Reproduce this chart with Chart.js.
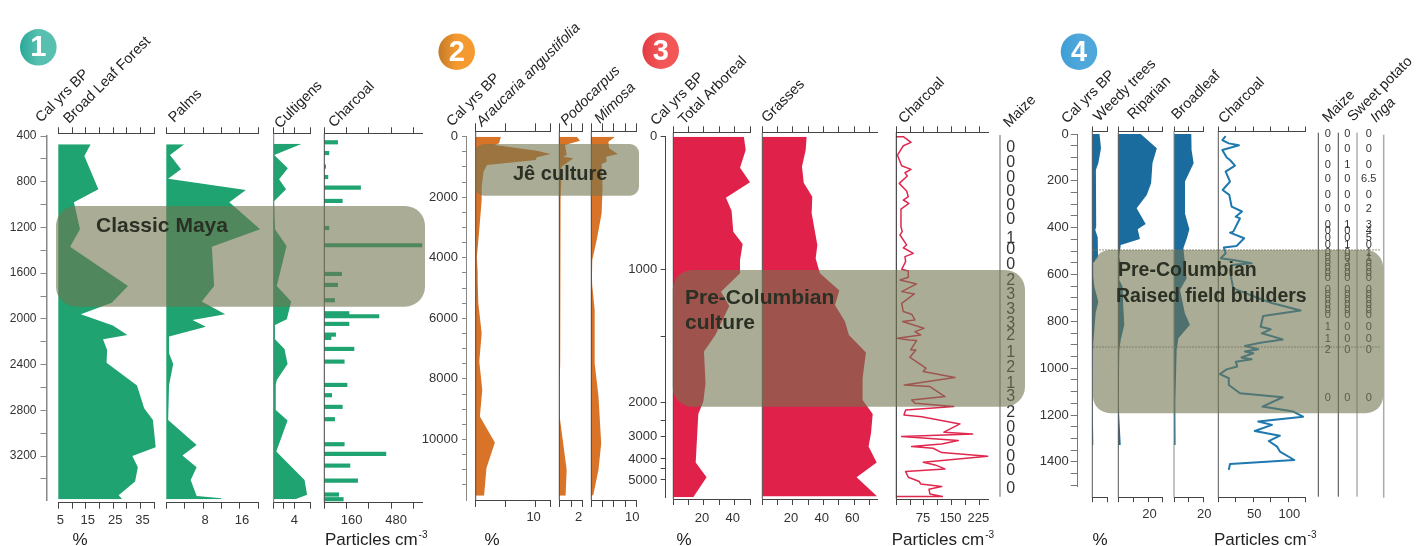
<!DOCTYPE html>
<html>
<head>
<meta charset="utf-8">
<title>Pollen and charcoal records</title>
<style>html,body{margin:0;background:#fff}canvas{display:block}</style>
<script src="https://cdn.jsdelivr.net/npm/chart.js@4"></script>
</head>
<body>
<canvas id="chart" width="1417" height="546"></canvas>
<script>
// --- values ------------------------------------------------------------

// site 1 (age in cal yrs BP)
var broadLeafAge = [473,575,866,980,1216,1368,1712,1858,1960,2059,2141,2178,2272,2383,2584,2782,2884,3123,3199,3298,3424,3543,3578];
var broadLeafPct = [16.8,14.5,19.6,10.7,12.9,9.3,30.4,24.5,13.2,24.9,30.2,21.3,22.8,22.6,33.7,36.3,39.5,40.5,32,34,33,27,28.3];
var palmsAge = [473,566,691,773,872,980,1216,1368,1712,1849,1960,2009,2068,2155,2301,2394,2578,2884,3103,3196,3298,3409,3549,3569,3578];
var palmsPct = [3.9,0.8,3.2,0.4,17.3,13.7,20.4,9.9,10.4,7.7,12.8,5.7,8.6,0.6,0.6,1.5,0.6,0.4,6.6,3.5,6.6,5.3,6.6,12,12];
var cultigensAge = [467,566,683,779,866,971,1216,1362,1712,1849,2004,2053,2178,2263,2394,2534,2578,2797,2890,3161,3409,3540,3578];
var cultigensPct = [5.5,0.1,2.75,1.05,2.4,0.07,0.26,2.5,0.6,3.4,2.55,0.26,0.26,2.1,2.7,0.6,0.4,0.4,2.7,0.5,6,6.5,4.2];
var charcoal1Age = [455,549,668,759,852,968,1205,1356,1607,1703,1837,1951,1977,2044,2138,2167,2263,2374,2578,2668,2770,2878,3097,3182,3284,3415,3537,3578];
var charcoal1Val = [96,33,10,26,260,129,33,700,124,96,74,177,392,177,81,48,213,143,163,53,129,74,143,442,184,239,103,136];

// site 2
var araucariaAge = [0,220,275,462,572,682,770,935,1155,1650,2090,3190,3960,4510,4732,5502,6492,7427,8362,9242,10100,10947,11860];
var araucariaPct = [4.2,3.9,3.2,10.2,12.5,10.2,10,1.9,1.3,1,1,0.55,0.2,0.33,0.33,0.44,1,0.6,1.1,0.7,3.2,1.8,1.4];
var podocarpusAge = [0,132,275,605,660,715,990,2090,4290,5502,7482,8142,9242,11002,11860];
var podocarpusPct = [1.5,1.77,0.49,0.63,0.34,1.2,0.2,0.11,0.06,0.06,0.11,0.03,0.03,0.63,0.54];
var mimosaAge = [0,165,385,572,660,825,900,1650,2530,3410,4070,4620,4897,5722,7482,8582,10122,11002,11827,11860];
var mimosaPct = [5.3,3.8,3.95,5.9,3.3,3.4,2.3,2.5,2.3,1.2,0.22,0.15,0.2,0.75,0.75,1.6,2.2,1.6,0.45,0.15];

// site 3: depth is the position on the broken age axis, see y3Ticks / y3TickText
var arborealDepth = [0,100,233,343,459,556,714,807,927,1027,1165,1273,1491,1616,1854,1992,2085,2450,2561,2711];
var arborealPct = [46,47.2,43.5,50,34.3,38,39.1,45.2,43.5,43.5,31.1,36.5,27.4,20,21,19.6,16.3,14.6,21.7,13];
var grassesDepth = [0,100,225,346,451,576,814,915,1027,1157,1265,1390,1491,1623,1816,1979,2085,2230,2330,2450,2561,2706];
var grassesPct = [28.9,28.3,25.9,27,32.6,32.2,35.9,34.8,37.6,50.2,47.4,53.9,56.5,67.6,65.4,65.4,72,70.9,69.3,74.6,61.5,75];
var charcoal3Depth = [0,0,43,68,138,218,246,271,296,351,408,451,476,501,544,677,714,739,814,835,877,902,940,997,1010,1057,1077,1107,1165,1182,1253,1315,1335,1378,1390,1441,1466,1491,1516,1528,1533,1603,1604,1659,1741,1766,1811,1867,1879,1954,1979,2004,2029,2055,2092,2105,2160,2222,2235,2255,2285,2310,2330,2343,2375,2403,2448,2468,2498,2518,2561,2593,2611,2631,2651,2686,2706,2706];
var charcoal3Val = [0,19,40,19,3,14.5,40,23.5,30,8,28,32.5,19,34,12.7,12.7,16,10,28,19,46,23.5,25.3,14.5,32.5,32.5,10,55,14.5,49,14.5,19,41.6,50.6,17,75,50.6,66,2.7,35.3,55,38.9,53,37,80.5,73,159,21.7,91.3,132,41.6,50.6,156,25.3,20.8,68.7,172.7,129,207,14.5,168,123,41.6,100,123,248,73,105,132,25.3,32.5,62.4,66,123,88.6,91.3,124.8,1];
var maize3Depth = [83,193,306,413,521,626,769,852,965,1085,1190,1298,1403,1498,1623,1736,1854,1954,2072,2185,2295,2405,2513,2643];
var maize3Count = [0,0,0,0,0,0,1,0,0,2,3,3,3,2,1,2,1,3,2,0,0,0,0,0];

// site 4
var weedyAge = [0,61,125,154,396,410,441,524,552,609,652,716,766,894,936,1107,1328];
var weedyPct = [2.4,2.9,2,1.2,1.3,1,1.8,1.9,0.33,0.33,0.7,2,1.1,0.33,0.2,0.1,0.33];
var riparianAge = [0,61,125,210,260,317,384,407,448,474,524,552,623,652,737,815,880,922,1150,1328];
var riparianPct = [14.9,25.6,22.7,21.8,18.9,12.2,18.2,12.9,14.4,1.6,0.67,1.6,0.67,2.9,3.3,4,1.6,0.67,0.2,1.6];
var broadleafAge = [0,68,125,203,339,407,441,488,552,616,666,766,815,872,922,1150,1328];
var broadleafPct = [11.8,12,13.4,7.5,7.5,10.5,9,6.4,7.5,8.6,4.1,7.5,10.9,3,1.8,0.9,1.1];
var charcoal4Age = [9,26,40,48,68,100,111,135,161,203,239,260,310,331,353,360,417,421,445,478,485,509,531,538,552,559,581,623,659,709,723,754,777,823,834,851,877,891,905,919,929,936,954,962,972,993,1005,1025,1043,1072,1107,1124,1164,1185,1207,1228,1242,1268,1288,1311,1335,1356,1392,1409,1434];
var charcoal4Val = [10.5,5.7,15,29.5,5.7,12,16.7,23.8,10.5,16.7,6.2,15.7,19,33.8,24.8,31,21.4,16.7,37,26,8,10.5,3.3,21.4,47.6,19,16.7,19,21.4,64,77.6,117.6,64,60.5,74.8,62,92,60,38,57,38,50,33,47.6,25,27,12,2.4,15,15,31,92,63,107,121,57,76.7,52,88,72,84,88,108.6,16.7,15];
var table4Age = [0,64,132,192,260,320,389,414,444,474,508,529,551,572,594,615,666,687,709,730,751,773,824,875,922,1127];
var table4Maize = [0,0,0,0,0,0,0,0,0,0,0,0,0,0,0,0,0,0,0,0,0,0,1,1,2,0];
var table4Sweet = [0,0,1,0,0,0,1,0,0,1,0,0,3,0,0,0,0,0,0,0,0,0,0,0,0,0];
var table4Inga = [0,0,0,6.5,0,2,3,4,5,0,1,1,0,0,0,0,0,0,0,0,0,0,0,0,0,0];

// tick lists
var y1Labels = [400,800,1200,1600,2000,2400,2800,3200];
var y2Labels = [0,2000,4000,6000,8000,10000];
var y3Ticks = [0,1000,1500,2000,2135,2256,2423,2498,2581];
var y3TickText = ['0','1000','','2000','','3000','4000','','5000'];
var y4Labels = [0,200,400,600,800,1000,1200,1400];

// --- layout ------------------------------------------------------------

var GREEN = '#1fa371', ORANGE = '#d97328', RED = '#e0224a', BLUE = '#1b6c9e';
var AXIS = '#444444';
var FONT = '"Liberation Sans", Arial, sans-serif';

function range(from, to, step) {
    var out = [];
    for (var v = from; v <= to; v += step) {
        out.push(v);
    }
    return out;
}

// top/bottom = where the two x axes of a site sit
var site1 = {y: 'y1', top: 133.3, bottom: 502.7, tickUp: 6, tickDown: 6, pad: 4};
var site2 = {y: 'y2', top: 131.3, bottom: 500, tickUp: 8, tickDown: 7, pad: 3};
var site3 = {y: 'y3', top: 132.3, bottom: 499, tickUp: 6, tickDown: 6, pad: 6};
var site4 = {y: 'y4', top: 131, bottom: 497.7, tickUp: 4.5, tickDown: 4.5, pad: 4};

var panels = [
    {id: 'blf', site: site1, kind: 'area', ages: broadLeafAge, values: broadLeafPct, color: GREEN, left: 58.3, right: 154.3, min: 5, max: 40, ticks: range(5, 40, 5), labels: [5,15,25,35], shift: 2},
    {id: 'palm', site: site1, kind: 'area', ages: palmsAge, values: palmsPct, color: GREEN, left: 166.3, right: 258.3, min: 0, max: 20, ticks: range(0, 20, 4), labels: [8,16], shift: 2},
    {id: 'cult', site: site1, kind: 'area', ages: cultigensAge, values: cultigensPct, color: GREEN, left: 273.7, right: 310.7, min: 0, max: 7.2, ticks: [0,2,4,7.2], labels: [4], shift: 0, baseColor: '#777777'},
    {id: 'char1', site: site1, kind: 'bar', ages: charcoal1Age, values: charcoal1Val, color: GREEN, left: 324.3, right: 422.3, min: 0, max: 703, ticks: range(0, 640, 160), labels: [160,480], shift: 5, baseColor: AXIS},

    {id: 'arau', site: site2, kind: 'area', ages: araucariaAge, values: araucariaPct, color: ORANGE, left: 475.7, right: 550, min: 0, max: 12.4, ticks: [0,5,10,12.4], labels: [10], shift: -2, baseColor: AXIS},
    {id: 'podo', site: site2, kind: 'area', ages: podocarpusAge, values: podocarpusPct, color: ORANGE, left: 559.3, right: 582.7, min: 0, max: 2, ticks: [0,1,2], labels: [2], shift: -4, baseColor: AXIS},
    {id: 'mimo', site: site2, kind: 'area', ages: mimosaAge, values: mimosaPct, color: ORANGE, left: 591.3, right: 636.3, min: 0, max: 10, ticks: [0,2.5,5,7.5,10], labels: [10], shift: -4, baseColor: AXIS},

    {id: 'arbo', site: site3, kind: 'area', ages: arborealDepth, values: arborealPct, color: RED, left: 673.3, right: 750, min: 0, max: 50, ticks: range(0, 50, 10), labels: [20,40], shift: -2, baseColor: AXIS},
    {id: 'gras', site: site3, kind: 'area', ages: grassesDepth, values: grassesPct, color: RED, left: 762.3, right: 877.3, min: 0, max: 75, ticks: range(0, 70, 10), labels: [20,40,60], shift: -2, baseColor: '#555555'},
    {id: 'char3', site: site3, kind: 'line', ages: charcoal3Depth, values: charcoal3Val, color: '#e0284f', width: 1.5, left: 896.3, right: 988.3, min: 0, max: 249.5, ticks: range(0, 225, 37.5), labels: [75,150,225], shift: -1, baseColor: '#222222'},

    {id: 'weed', site: site4, kind: 'area', ages: weedyAge, values: weedyPct, color: BLUE, left: 1092.3, right: 1107.3, min: 0, max: 5, ticks: [0,5], labels: [], shift: 0, baseColor: '#555555'},
    {id: 'ripa', site: site4, kind: 'area', ages: riparianAge, values: riparianPct, color: BLUE, left: 1118.3, right: 1162.7, min: 0, max: 29.5, ticks: [0,10,20,29.5], labels: [20], shift: 1, baseColor: '#555555'},
    {id: 'brod', site: site4, kind: 'area', ages: broadleafAge, values: broadleafPct, color: BLUE, left: 1174, right: 1203.3, min: 0, max: 20, ticks: [0,10,20], labels: [20], shift: 1, baseColor: '#888888'},
    {id: 'char4', site: site4, kind: 'line', ages: charcoal4Age, values: charcoal4Val, color: '#1f78ae', width: 2, left: 1218.3, right: 1305.7, min: 0, max: 124.8, ticks: [0,25,50,75,100,124.8], labels: [50,100], shift: 1, baseColor: '#555555'}
];

var ageAxes = [
    {id: 'y1', x: 47, top: 136, bottom: 500, max: 3585, min: 400, ticks: range(400, 3400, 200), labels: y1Labels, color: '#888888', width: 1.5, tick: 6.5, pad: 4, size: 12},
    {id: 'y2', x: 466, top: 136.7, bottom: 500, max: 12000, min: 0, ticks: range(0, 11500, 500), labels: y2Labels, color: '#888888', width: 1, tick: 4, pad: 4, size: 13},
    {id: 'y3', x: 665.7, top: 136.7, bottom: 497.5, max: 2713, min: 0, ticks: y3Ticks, text: y3TickText, color: '#444444', width: 1, tick: 5, pad: 3.5, size: 13},
    {id: 'y4', x: 1077.7, top: 134, bottom: 486, max: 1503, min: 0, ticks: range(0, 1500, 50), labels: y4Labels, color: '#777777', width: 1, tick: 7, pad: 2, size: 13}
];

var bands = [
    {y: 'y1', from: 1012, to: 1893, left: 56, right: 425, radius: 20},
    {y: 'y2', from: 241, to: 1948, left: 475, right: 639, radius: 9},
    {y: 'y3', from: 1002, to: 2030, left: 672.7, right: 1025, radius: 20},
    {y: 'y4', from: 495, to: 1192, left: 1093, right: 1383, radius: 17}
];

var bandTexts = [
    {text: 'Classic Maya', x: 96, y: 232, size: 21},
    {text: 'J\u00ea culture', x: 513, y: 180, size: 20},
    {text: 'Pre-Columbian', x: 685, y: 304, size: 21},
    {text: 'culture', x: 685, y: 329, size: 21},
    {text: 'Pre-Columbian', x: 1118, y: 276, size: 19.5},
    {text: 'Raised field builders', x: 1116, y: 302, size: 19.5}
];

var headers = [
    {text: 'Cal yrs BP', x: 41, y: 123},
    {text: 'Broad Leaf Forest', x: 69, y: 124},
    {text: 'Palms', x: 174, y: 123},
    {text: 'Cultigens', x: 280, y: 129},
    {text: 'Charcoal', x: 334, y: 128},
    {text: 'Cal yrs BP', x: 452, y: 127},
    {text: 'Araucaria angustifolia', x: 482, y: 127, italic: true},
    {text: 'Podocarpus', x: 566, y: 126, italic: true},
    {text: 'Mimosa', x: 600, y: 124, italic: true},
    {text: 'Cal yrs BP', x: 656, y: 126},
    {text: 'Total Arboreal', x: 684, y: 125},
    {text: 'Grasses', x: 767, y: 123},
    {text: 'Charcoal', x: 904, y: 124},
    {text: 'Maize', x: 1009, y: 128},
    {text: 'Cal yrs BP', x: 1067, y: 124},
    {text: 'Weedy trees', x: 1099, y: 122},
    {text: 'Riparian', x: 1133, y: 120},
    {text: 'Broadleaf', x: 1177, y: 120},
    {text: 'Charcoal', x: 1224, y: 124},
    {text: 'Maize', x: 1328, y: 123},
    {text: 'Sweet potato', x: 1353, y: 122},
    {text: 'Inga', x: 1376, y: 123, italic: true}
];

var percentLabels = [80, 492, 684, 1100];
var particleLabels = [325, 891.7, 1214];

var badges = [
    {text: '1', x: 38.3, y: 47.3, from: '#2aa899', to: '#58c0b0'},
    {text: '2', x: 456.7, y: 51.7, from: '#c47a28', to: '#f59a30'},
    {text: '3', x: 660.7, y: 50.7, from: '#e23c44', to: '#f25656'},
    {text: '4', x: 1079, y: 51.7, from: '#3f9fd6', to: '#4fa7da'}
];

// vertical rules of the count columns
var columnRules = [
    {x: 1000, top: 135, bottom: 496.7, color: '#999999', width: 1.5},
    {x: 1318.3, top: 132.7, bottom: 496.7, color: '#444444', width: 1},
    {x: 1338.3, top: 132.7, bottom: 496.7, color: '#444444', width: 1},
    {x: 1357, top: 132.7, bottom: 496.7, color: '#888888', width: 1},
    {x: 1383.7, top: 134.7, bottom: 497.7, color: '#aaaaaa', width: 1.5}
];

// --- chart config ------------------------------------------------------

var geom = {};
var scales = {};
var datasets = [];

function setTicks(scale, def) {
    scale.min = def.min;
    scale.max = def.max;
    scale.ticks = def.ticks.map(function (v) { return {value: v}; });
}

function xAxis(p, position) {
    var atTop = position === 'top';
    return {
        type: 'linear',
        axis: 'x',
        position: position,
        min: p.min,
        max: p.max,
        afterBuildTicks: function (scale) {
            setTicks(scale, p);
        },
        grid: {drawOnChartArea: false, color: AXIS, lineWidth: 1, tickLength: atTop ? p.site.tickUp : p.site.tickDown},
        border: {color: AXIS, width: 1},
        ticks: {
            display: !atTop,
            autoSkip: false,
            minRotation: 0,
            maxRotation: 0,
            labelOffset: p.shift,
            padding: p.site.pad,
            color: '#333333',
            font: {family: FONT, size: 13},
            callback: function (v) { return p.labels.indexOf(v) >= 0 ? String(v) : ''; }
        }
    };
}

panels.forEach(function (p) {
    scales[p.id] = xAxis(p, 'bottom');
    scales[p.id + 'Top'] = xAxis(p, 'top');
    geom[p.id] = {left: p.left, right: p.right, top: p.site.bottom, bottom: p.site.bottom + 40};
    geom[p.id + 'Top'] = {left: p.left, right: p.right, top: p.site.top - 15, bottom: p.site.top};

    var points = p.ages.map(function (age, i) { return {x: p.values[i], y: age}; });
    var ds = {data: points, xAxisID: p.id, yAxisID: p.site.y, clip: false};
    if (p.kind === 'bar') {
        ds.type = 'bar';
        ds.backgroundColor = p.color;
        ds.barThickness = 3.5;
        ds.grouped = false; // otherwise the four y axes count as groups and shift the bars
    } else {
        ds.type = 'line';
        ds.tension = 0;
        ds.pointRadius = 0;
        ds.borderColor = p.color;
        ds.borderWidth = p.kind === 'line' ? p.width : 0;
        ds.borderJoinStyle = 'round';
        ds.fill = p.kind === 'area' ? 'origin' : false;
        ds.backgroundColor = p.color;
    }
    datasets.push(ds);
});

ageAxes.forEach(function (a) {
    scales[a.id] = {
        type: 'linear',
        axis: 'y',
        position: 'left',
        reverse: true,
        offset: false, // the bar dataset would switch this on for y1
        min: a.min,
        max: a.max,
        afterBuildTicks: function (scale) {
            setTicks(scale, a);
        },
        grid: {drawOnChartArea: false, offset: false, color: a.color, lineWidth: 1, tickLength: a.tick},
        border: {color: a.color, width: a.width},
        ticks: {
            autoSkip: false,
            minRotation: 0,
            maxRotation: 0,
            padding: a.pad,
            color: '#333333',
            font: {family: FONT, size: a.size},
            callback: function (v, i) {
                if (a.text) {
                    return a.text[i];
                }
                return a.labels.indexOf(v) >= 0 ? String(v) : '';
            }
        }
    };
    geom[a.id] = {left: a.x - 60, right: a.x, top: a.top, bottom: a.bottom};
});

// the panels are placed by hand, the automatic box layout cannot do this
var placeAxes = {
    id: 'placeAxes',
    afterLayout: function (chart) {
        Object.keys(geom).forEach(function (id) {
            var s = chart.scales[id], g = geom[id];
            s.left = g.left;
            s.right = g.right;
            s.top = g.top;
            s.bottom = g.bottom;
            s.width = g.right - g.left;
            s.height = g.bottom - g.top;
            s._gridLineItems = null;
            s._labelItems = null;
            s.configure();
        });
        chart.chartArea = {left: 0, top: 0, right: chart.width, bottom: chart.height, width: chart.width, height: chart.height};
    }
};

function rule(ctx, x1, y1, x2, y2, color, width) {
    ctx.strokeStyle = color;
    ctx.lineWidth = width;
    ctx.beginPath();
    ctx.moveTo(x1, y1);
    ctx.lineTo(x2, y2);
    ctx.stroke();
}

function drawColumn(ctx, scale, x, ages, values, size) {
    ctx.font = size + 'px ' + FONT;
    ctx.fillStyle = '#333333';
    ctx.textAlign = 'center';
    ctx.textBaseline = 'middle';
    ages.forEach(function (age, i) {
        ctx.fillText(String(values[i]), x, scale.getPixelForValue(age));
    });
}

var overlays = {
    id: 'overlays',
    afterDatasetsDraw: function (chart) {
        var ctx = chart.ctx;
        ctx.save();

        panels.forEach(function (p) {
            if (p.baseColor) {
                rule(ctx, p.left, p.site.top, p.left, p.site.bottom, p.baseColor, 1);
            }
        });
        columnRules.forEach(function (r) {
            rule(ctx, r.x, r.top, r.x, r.bottom, r.color, r.width);
        });

        drawColumn(ctx, chart.scales.y3, 1010.7, maize3Depth, maize3Count, 16);
        drawColumn(ctx, chart.scales.y4, 1327.7, table4Age, table4Maize, 11);
        drawColumn(ctx, chart.scales.y4, 1347.3, table4Age, table4Sweet, 11);
        drawColumn(ctx, chart.scales.y4, 1368.7, table4Age, table4Inga, 11);

        bands.forEach(function (b) {
            var top = chart.scales[b.y].getPixelForValue(b.from);
            var bottom = chart.scales[b.y].getPixelForValue(b.to);
            ctx.fillStyle = 'rgba(113,117,80,0.6)';
            ctx.beginPath();
            ctx.roundRect(b.left, top, b.right - b.left, bottom - top, b.radius);
            ctx.fill();
        });

        // the two thin reference lines of site 4
        [495, 909.5].forEach(function (age) {
            var y = chart.scales.y4.getPixelForValue(age);
            ctx.setLineDash([2, 1]);
            rule(ctx, 1093, y, 1381, y, '#77795f', 0.8);
            ctx.setLineDash([]);
        });

        ctx.textAlign = 'left';
        ctx.textBaseline = 'alphabetic';
        ctx.fillStyle = '#2a3024';
        bandTexts.forEach(function (t) {
            ctx.font = 'bold ' + t.size + 'px ' + FONT;
            ctx.fillText(t.text, t.x, t.y);
        });

        ctx.fillStyle = '#222222';
        headers.forEach(function (h) {
            ctx.save();
            ctx.translate(h.x, h.y);
            ctx.rotate(-Math.PI / 4);
            ctx.font = (h.italic ? 'italic ' : '') + '14.5px ' + FONT;
            ctx.fillText(h.text, 0, 0);
            ctx.restore();
        });

        ctx.font = '17px ' + FONT;
        ctx.textAlign = 'center';
        percentLabels.forEach(function (x) {
            ctx.fillText('%', x, 545);
        });
        ctx.textAlign = 'left';
        particleLabels.forEach(function (x) {
            ctx.font = '17px ' + FONT;
            ctx.fillText('Particles cm', x, 545);
            var w = ctx.measureText('Particles cm').width;
            ctx.font = '10px ' + FONT;
            ctx.fillText('-3', x + w + 1, 538);
        });

        badges.forEach(function (b) {
            var g = ctx.createLinearGradient(b.x - 18, 0, b.x + 18, 0);
            g.addColorStop(0, b.from);
            g.addColorStop(0.5, b.to);
            g.addColorStop(1, b.to);
            ctx.fillStyle = g;
            ctx.beginPath();
            ctx.arc(b.x, b.y, 18.3, 0, Math.PI * 2);
            ctx.fill();
            ctx.fillStyle = '#ffffff';
            ctx.font = 'bold 29px ' + FONT;
            ctx.textAlign = 'center';
            ctx.textBaseline = 'middle';
            ctx.fillText(b.text, b.x, b.y + 1);
        });

        ctx.restore();
    }
};

new Chart(document.getElementById('chart'), {
    type: 'line',
    data: {datasets: datasets},
    options: {
        indexAxis: 'y',
        responsive: false,
        animation: false,
        devicePixelRatio: 1,
        scales: scales,
        plugins: {legend: {display: false}, tooltip: {enabled: false}}
    },
    plugins: [placeAxes, overlays]
});
</script>
</body>
</html>
